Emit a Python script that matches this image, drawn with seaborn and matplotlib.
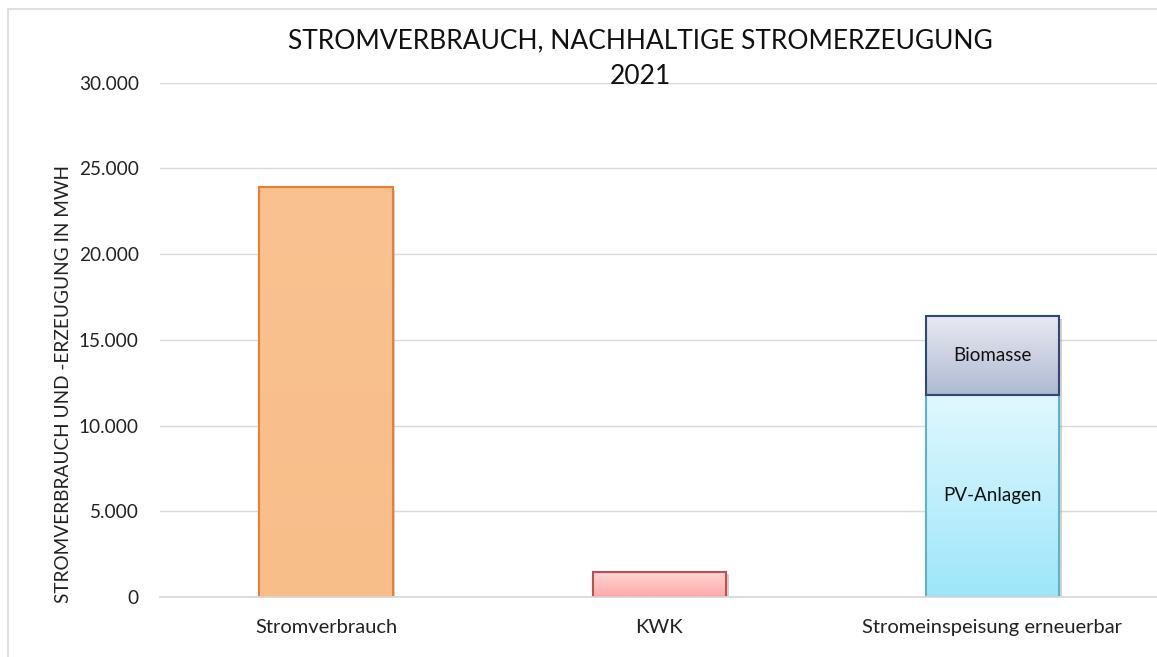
import numpy as np
import pandas as pd
import matplotlib
matplotlib.use("Agg")
import matplotlib.pyplot as plt
import matplotlib.patheffects as pe
from matplotlib.patches import Rectangle
from matplotlib.colors import LinearSegmentedColormap
import seaborn as sns

# Daten (MWh, 2021)
kategorien = ["Stromverbrauch", "KWK", "Stromeinspeisung erneuerbar"]
unten_werte = [23900, 1480, 11790]      # Stromverbrauch, KWK, PV-Anlagen
biomasse_werte = [0, 0, 4600]           # nur beim erneuerbaren Balken
segment_namen = ["PV-Anlagen", "Biomasse"]
y_ticks = [0, 5000, 10000, 15000, 20000, 25000, 30000]

sns.set_theme(style="white")
plt.rcParams["font.family"] = ["Lato", "DejaVu Sans"]

W, H = 1157, 657
fig = plt.figure(figsize=(W / 100, H / 100), dpi=100)
ax = fig.add_axes([159.5 / W, (H - 597) / H, (1159 - 159.5) / W, (597 - 82.7) / H])

df = pd.DataFrame({
    "kategorie": kategorien,
    "unten": unten_werte,
    "gesamt": np.add(unten_werte, biomasse_werte),
})

# gestapelt: erst Gesamtwert, dann unterer Teil darueber
sns.barplot(data=df, x="kategorie", y="gesamt", width=0.4, color="white", ax=ax)
sns.barplot(data=df, x="kategorie", y="unten", width=0.4, color="white", ax=ax)

bars = list(ax.patches)
gesamt_bars, unten_bars = bars[:3], bars[3:]


def verlauf(bar, oben, unten, kante, y_start=None):
    if y_start is not None:
        # nur das obere Segment behalten
        top = bar.get_y() + bar.get_height()
        bar.set_y(y_start)
        bar.set_height(top - y_start)
    x0, y0 = bar.get_x(), bar.get_y()
    w, h = bar.get_width(), bar.get_height()
    cmap = LinearSegmentedColormap.from_list("v", [unten, oben])
    grad = np.linspace(0, 1, 256).reshape(-1, 1)
    im = ax.imshow(grad, cmap=cmap, origin="lower", extent=(x0, x0 + w, y0, y0 + h),
                   aspect="auto", zorder=2.2, interpolation="bilinear")
    im.set_clip_path(bar)
    bar.set_facecolor(oben)
    bar.set_edgecolor("none")
    bar.set_zorder(2)
    bar.set_path_effects([pe.SimplePatchShadow(offset=(2, -2), shadow_rgbFace="gray", alpha=0.35),
                          pe.Normal()])
    ax.add_patch(Rectangle((x0, y0), w, h, fill=False, edgecolor=kante, lw=1.5, zorder=2.5))


gesamt_bars[0].set_visible(False)
gesamt_bars[1].set_visible(False)
verlauf(unten_bars[0], "#F9C290", "#F8BE8A", "#ED7D31")
verlauf(unten_bars[1], "#FFD6D6", "#FFA9A8", "#C0504D")
verlauf(unten_bars[2], "#E1F8FE", "#9DE6FA", "#5DB3CB")
verlauf(gesamt_bars[2], "#E8EAF2", "#AEB9D1", "#2E4A74", y_start=unten_werte[2])

# Beschriftung der Segmente
ax.text(2, unten_werte[2] / 2, segment_namen[0], ha="center", va="center", fontsize=13.5,
        color="#111111", zorder=3)
ax.text(2, unten_werte[2] + biomasse_werte[2] / 2, segment_namen[1], ha="center", va="center",
        fontsize=13.5, color="#111111", zorder=3)

ax.set_xlim(-0.5, 2.5)
ax.set_ylim(0, 30000)
ax.set_yticks(y_ticks)
ax.set_yticklabels([f"{v:,}".replace(",", ".") for v in y_ticks])
ax.set_xlabel("")
ax.set_ylabel("")
ax.tick_params(axis="both", length=0, labelsize=13.7, colors="#222222")
ax.tick_params(axis="x", labelsize=14.5, pad=16)
ax.tick_params(axis="y", pad=15)
ax.yaxis.grid(True, color="#D9D9D9", lw=1)
ax.set_axisbelow(True)
for s in ["left", "right", "top"]:
    ax.spines[s].set_visible(False)
ax.spines["bottom"].set_color("#D9D9D9")
ax.spines["bottom"].set_linewidth(1.3)

fig.text(64 / W, 1 - 384 / H, "STROMVERBRAUCH UND -ERZEUGUNG IN MWH", rotation=90,
         ha="center", va="center", fontsize=13.7, color="#222222")
fig.text(640 / W, 1 - 41 / H, "STROMVERBRAUCH, NACHHALTIGE STROMERZEUGUNG",
         ha="center", va="center", fontsize=19, color="#111111")
fig.text(640 / W, 1 - 76 / H, "2021", ha="center", va="center", fontsize=19, color="#111111")

# Rahmen um das Diagramm
fig.patches.append(Rectangle((8 / W, -0.1), 1.2, (H - 9) / H + 0.1, transform=fig.transFigure,
                             fill=False, edgecolor="#D9D9D9", lw=1.2))

fig.savefig("out.png", dpi=100)
